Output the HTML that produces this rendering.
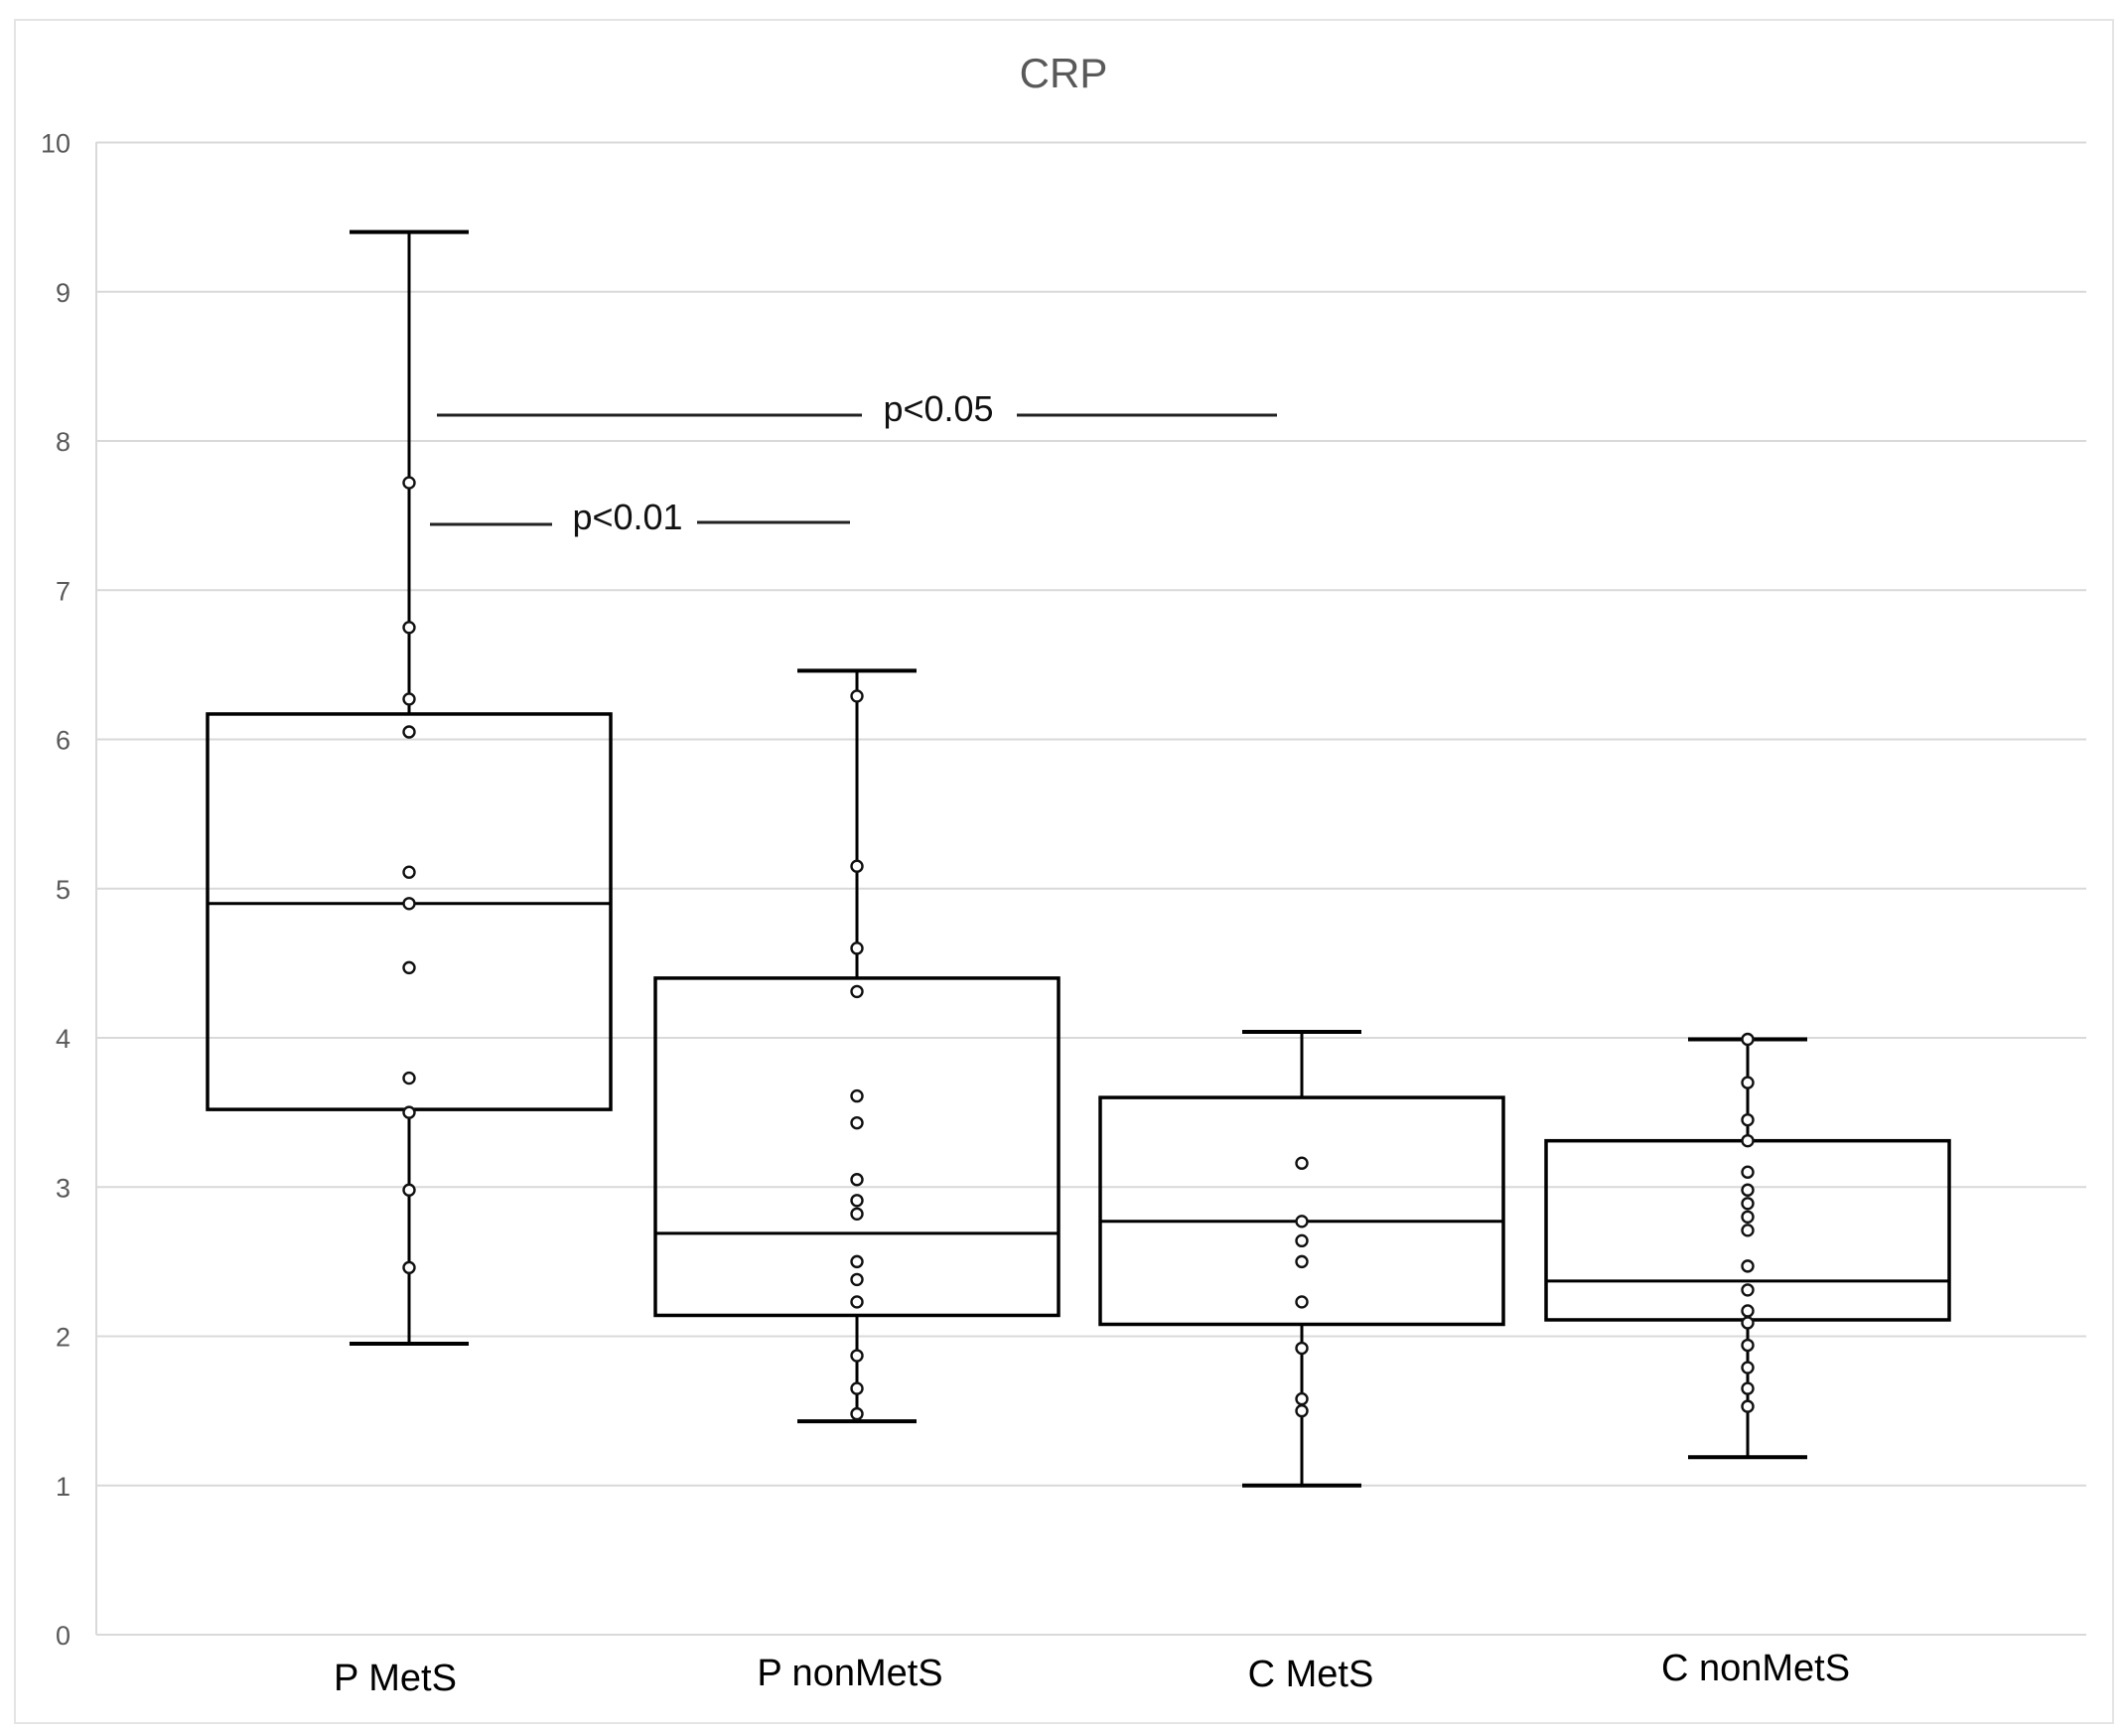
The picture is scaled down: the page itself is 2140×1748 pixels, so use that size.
<!DOCTYPE html>
<html><head><meta charset="utf-8"><style>
html,body{margin:0;padding:0;background:#fff;}
svg{display:block;font-family:"Liberation Sans",Arial,sans-serif;}
</style></head><body>
<svg id="chart" width="2140" height="1748" viewBox="0 0 2140 1748">
<rect x="15" y="20" width="2113" height="1715" fill="#fff" stroke="#e4e4e4" stroke-width="2"/>
<text x="1071" y="88" text-anchor="middle" font-size="42" fill="#595959">CRP</text>
<g id="grid"></g>
<g id="yticks"></g>
<g id="boxes"></g>
<g id="xlabels"></g>
<g>
<line x1="440" y1="418" x2="868" y2="418" stroke="#222" stroke-width="3"/>
<text x="945" y="424" text-anchor="middle" font-size="36" fill="#111">p&lt;0.05</text>
<line x1="1024" y1="418" x2="1286" y2="418" stroke="#222" stroke-width="3"/>
<line x1="433" y1="528" x2="556" y2="528" stroke="#222" stroke-width="3"/>
<text x="632" y="533" text-anchor="middle" font-size="36" fill="#111">p&lt;0.01</text>
<line x1="702" y1="526" x2="856" y2="526" stroke="#222" stroke-width="3"/>
</g>
</svg>
<script>
const categories = ["P MetS","P nonMetS","C MetS","C nonMetS"];
const whiskerMax = [9.4, 6.46, 4.04, 3.99];
const q3Values = [6.17, 4.4, 3.6, 3.31];
const medianValues = [4.9, 2.69, 2.77, 2.37];
const q1Values = [3.52, 2.14, 2.08, 2.11];
const whiskerMin = [1.95, 1.43, 1.0, 1.19];
const pointsPMetS = [7.72, 6.75, 6.27, 6.05, 5.11, 4.9, 4.47, 3.73, 3.5, 2.98, 2.46];
const pointsPnonMetS = [6.29, 5.15, 4.6, 4.31, 3.61, 3.43, 3.05, 2.91, 2.82, 2.5, 2.38, 2.23, 1.87, 1.65, 1.48];
const pointsCMetS = [3.16, 2.77, 2.64, 2.5, 2.23, 1.92, 1.58, 1.5];
const pointsCnonMetS = [3.99, 3.7, 3.45, 3.31, 3.1, 2.98, 2.89, 2.8, 2.71, 2.47, 2.31, 2.17, 2.09, 1.94, 1.79, 1.65, 1.53];
const yTickLabels = ["0","1","2","3","4","5","6","7","8","9","10"];

const NS = "http://www.w3.org/2000/svg";
const yScale = v => 1646 - v * 150.25;
const centers = [412, 863, 1311, 1760];
const xScale = i => centers[i];
const labelY = [1702, 1697, 1698, 1692];
const labelDx = [-14, -7, 9, 8];
function mk(tag, attrs, parent){const e=document.createElementNS(NS,tag);for(const k in attrs)e.setAttribute(k,attrs[k]);parent.appendChild(e);return e;}
const grid=document.getElementById('grid'), yt=document.getElementById('yticks'), bx=document.getElementById('boxes'), xl=document.getElementById('xlabels');
mk('line',{x1:97,y1:143,x2:97,y2:1646,stroke:'#d9d9d9','stroke-width':2},grid);
yTickLabels.forEach((t,i)=>{
  const v=+t, y=yScale(v);
  const l=mk('line',{x1:97,y1:y,x2:2101,y2:y,stroke:'#d9d9d9','stroke-width':2},grid);
  
  
  const tx=mk('text',{x:71,y:y+10,'text-anchor':'end','font-size':27,fill:'#595959'},yt);
  tx.textContent=t;
  
  
});
const allPoints=[pointsPMetS,pointsPnonMetS,pointsCMetS,pointsCnonMetS];
categories.forEach((c,i)=>{
  const cx=xScale(i), hw=203, cw=60;
  const g=mk('g',{},bx);
  
  
  mk('line',{x1:cx,y1:yScale(whiskerMax[i]),x2:cx,y2:yScale(q3Values[i]),stroke:'#000','stroke-width':3},g);
  mk('line',{x1:cx,y1:yScale(q1Values[i]),x2:cx,y2:yScale(whiskerMin[i]),stroke:'#000','stroke-width':3},g);
  mk('line',{x1:cx-cw,y1:yScale(whiskerMax[i]),x2:cx+cw,y2:yScale(whiskerMax[i]),stroke:'#000','stroke-width':4},g);
  mk('line',{x1:cx-cw,y1:yScale(whiskerMin[i]),x2:cx+cw,y2:yScale(whiskerMin[i]),stroke:'#000','stroke-width':4},g);
  mk('rect',{x:cx-hw,y:yScale(q3Values[i]),width:2*hw,height:yScale(q1Values[i])-yScale(q3Values[i]),fill:'none',stroke:'#000','stroke-width':3.5},g);
  mk('line',{x1:cx-hw,y1:yScale(medianValues[i]),x2:cx+hw,y2:yScale(medianValues[i]),stroke:'#000','stroke-width':3},g);
  allPoints[i].forEach(v=>{
    const p=mk('circle',{cx:cx,cy:yScale(v),r:5.5,fill:'#fff',stroke:'#111','stroke-width':2.4},g);
    
    
  });
  const t=mk('text',{x:cx+labelDx[i],y:labelY[i],'text-anchor':'middle','font-size':38,fill:'#000'},xl);
  t.textContent=c;
  
  
});
</script>
</body></html>
